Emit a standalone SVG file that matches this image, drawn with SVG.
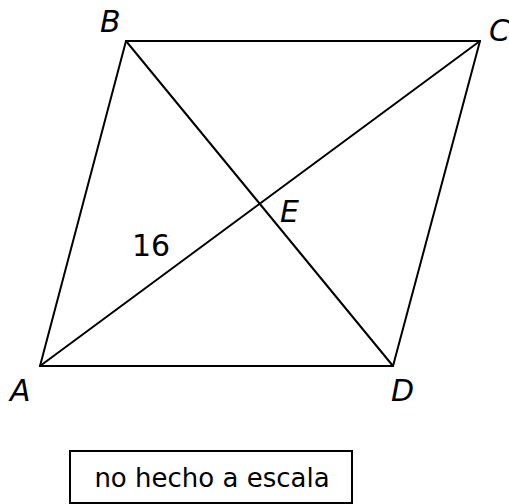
<svg xmlns="http://www.w3.org/2000/svg" width="509" height="504" viewBox="0 0 509 504">
<style>
.ln{stroke:#000;stroke-width:2;fill:none;stroke-linecap:round;stroke-linejoin:round}
.lbl{font-family:"DejaVu Sans",Verdana,sans-serif;font-size:30px;font-style:italic;fill:#000}
.num{font-family:"DejaVu Sans",Verdana,sans-serif;font-size:30px;fill:#000}
.note{font-family:"DejaVu Sans",Verdana,sans-serif;font-size:26px;fill:#000}
</style>
<rect width="509" height="504" fill="#fff"/>
<g id="connectors">
<line class="ln" x1="40" y1="366" x2="126" y2="41"/>
<line class="ln" x1="126" y1="41" x2="480" y2="41"/>
<line class="ln" x1="480" y1="41" x2="393" y2="366"/>
<line class="ln" x1="393" y1="366" x2="40" y2="366"/>
<line class="ln" x1="40" y1="366" x2="480" y2="41"/>
<line class="ln" x1="126" y1="41" x2="393" y2="366"/>
</g>
<g id="A"><text class="lbl" x="10" y="401">A</text></g>
<g id="B"><text class="lbl" x="100" y="32">B</text></g>
<g id="C"><text class="lbl" x="489" y="41">C</text></g>
<g id="D"><text class="lbl" x="391" y="401">D</text></g>
<g id="E"><text class="lbl" x="280" y="222">E</text></g>
<g id="len"><text class="num" x="132" y="256">16</text></g>
<g id="note">
<rect x="70" y="451" width="282" height="52" fill="none" stroke="#000" stroke-width="2"/>
<text class="note" x="212" y="487" text-anchor="middle">no hecho a escala</text>
</g>
</svg>
